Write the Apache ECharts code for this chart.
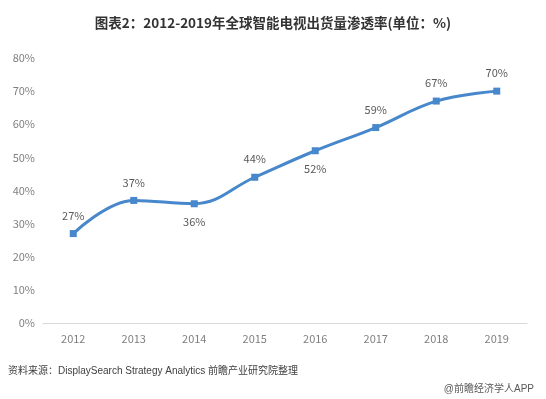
<!DOCTYPE html>
<html>
<head>
<meta charset="utf-8">
<script src="https://cdn.jsdelivr.net/npm/echarts@6/dist/echarts.min.js"></script>
<style>
  html, body { margin: 0; padding: 0; background: #ffffff; }
  #chart { width: 546px; height: 399px; }
</style>
</head>
<body>
<div id="chart"></div>
<script>
const years = ['2012', '2013', '2014', '2015', '2016', '2017', '2018', '2019'];
const penetration = [27, 37, 36, 44, 52, 59, 67, 70];
// labels under the point for these years, above for the rest
const belowYears = ['2014', '2016'];

const myChart = echarts.init(document.getElementById('chart'));
const font = '"Noto Sans CJK SC", "Microsoft YaHei", sans-serif';
const footFont = '"Liberation Sans", "Noto Sans CJK SC", sans-serif';

const option = {
  backgroundColor: '#ffffff',
  title: {
    text: '图表2：2012-2019年全球智能电视出货量渗透率(单位：%)',
    left: 'center',
    top: 11,
    textStyle: {
      fontFamily: font,
      fontSize: 13.5,
      fontWeight: 'bold',
      color: '#333333'
    }
  },
  grid: {
    left: 43,
    right: 19,
    top: 58,
    bottom: 76
  },
  xAxis: {
    type: 'category',
    data: years,
    boundaryGap: true,
    axisLine: { lineStyle: { color: '#d9d9d9', width: 1 } },
    axisTick: { show: false },
    axisLabel: { color: '#7f7f7f', fontSize: 11, fontFamily: font, margin: 10 }
  },
  yAxis: {
    type: 'value',
    min: 0,
    max: 80,
    interval: 10,
    splitLine: { show: false },
    axisLine: { show: false },
    axisTick: { show: false },
    axisLabel: {
      formatter: '{value}%',
      color: '#7f7f7f',
      fontSize: 11,
      fontFamily: font,
      margin: 8
    }
  },
  series: [
    {
      type: 'line',
      smooth: 0.4,
      data: penetration.map((v, i) => ({
        value: v,
        label: { position: belowYears.includes(years[i]) ? 'bottom' : 'top' }
      })),
      symbol: 'rect',
      symbolSize: 7,
      lineStyle: { color: '#4787cb', width: 3 },
      itemStyle: { color: '#4787cb' },
      label: {
        show: true,
        formatter: '{c}%',
        color: '#595959',
        fontSize: 11,
        fontFamily: font,
        distance: 9
      }
    }
  ],
  graphic: [
    {
      type: 'text',
      left: 8,
      top: 366,
      style: {
        text: '资料来源：DisplaySearch Strategy Analytics 前瞻产业研究院整理',
        fill: '#404040',
        font: '10px ' + footFont
      }
    },
    {
      type: 'text',
      right: 12,
      top: 384,
      style: {
        text: '@前瞻经济学人APP',
        fill: '#595959',
        font: '10px ' + footFont
      }
    }
  ]
};

option && myChart.setOption(option);
</script>
</body>
</html>
